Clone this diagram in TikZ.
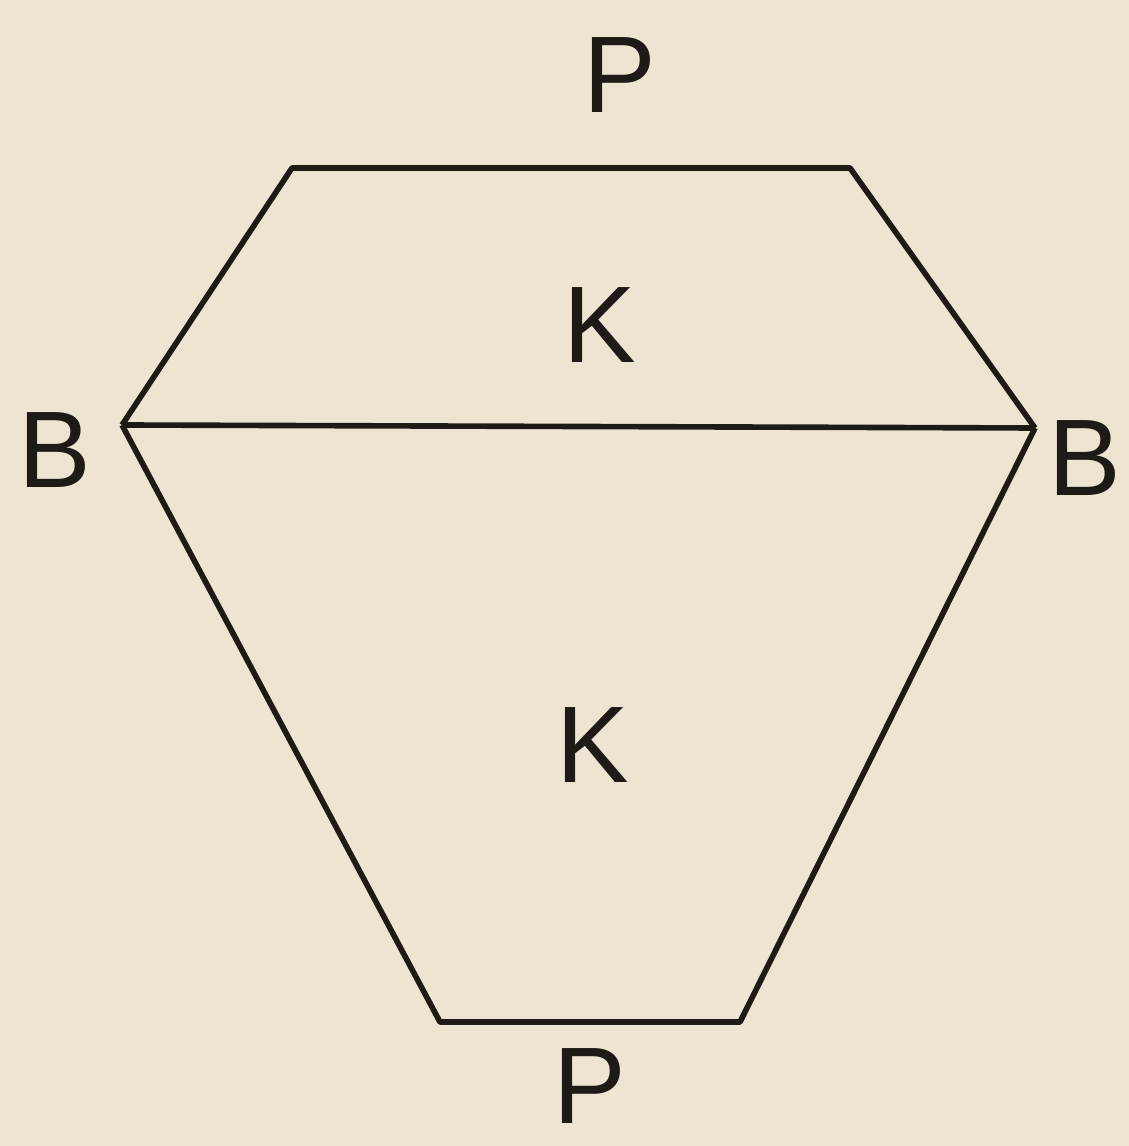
\documentclass[tikz,border=0pt]{standalone}
\usepackage{fontspec}
\setmainfont{Liberation Sans}
\definecolor{paper}{HTML}{EEE4D2}
\definecolor{ink}{HTML}{1E1A16}
\begin{document}
\begin{tikzpicture}[font=\fontsize{31}{36}\selectfont, line width=1.6pt, draw=ink, text=ink,
  letter/.style={inner sep=0pt, text=ink}]
\fill[paper] (0,0) rectangle (11.29,11.46);
\useasboundingbox (0,0) rectangle (11.29,11.46);
% vertices
\coordinate (tl) at (2.92,9.78);
\coordinate (tr) at (8.50,9.78);
\coordinate (bl) at (1.22,7.21);
\coordinate (br) at (10.35,7.18);
\coordinate (dl) at (4.40,1.24);
\coordinate (dr) at (7.40,1.24);
% outline
\draw[ink, line join=round] (bl) -- (tl) -- (tr) -- (br);
\draw[ink, line join=round] (bl) -- (dl) -- (dr) -- (br);
\draw[ink] (bl) -- (br);
% labels
\node[letter] (ptop) at (6.20,10.71) {P};
\node[letter] (kup) at (6.00,8.21) {K};
\node[letter] (bleft) at (0.55,6.96) {B};
\node[letter] (bright) at (10.85,6.88) {B};
\node[letter] (klow) at (5.93,4.01) {K};
\node[letter] (pbot) at (5.90,0.60) {P};
\end{tikzpicture}
\end{document}
